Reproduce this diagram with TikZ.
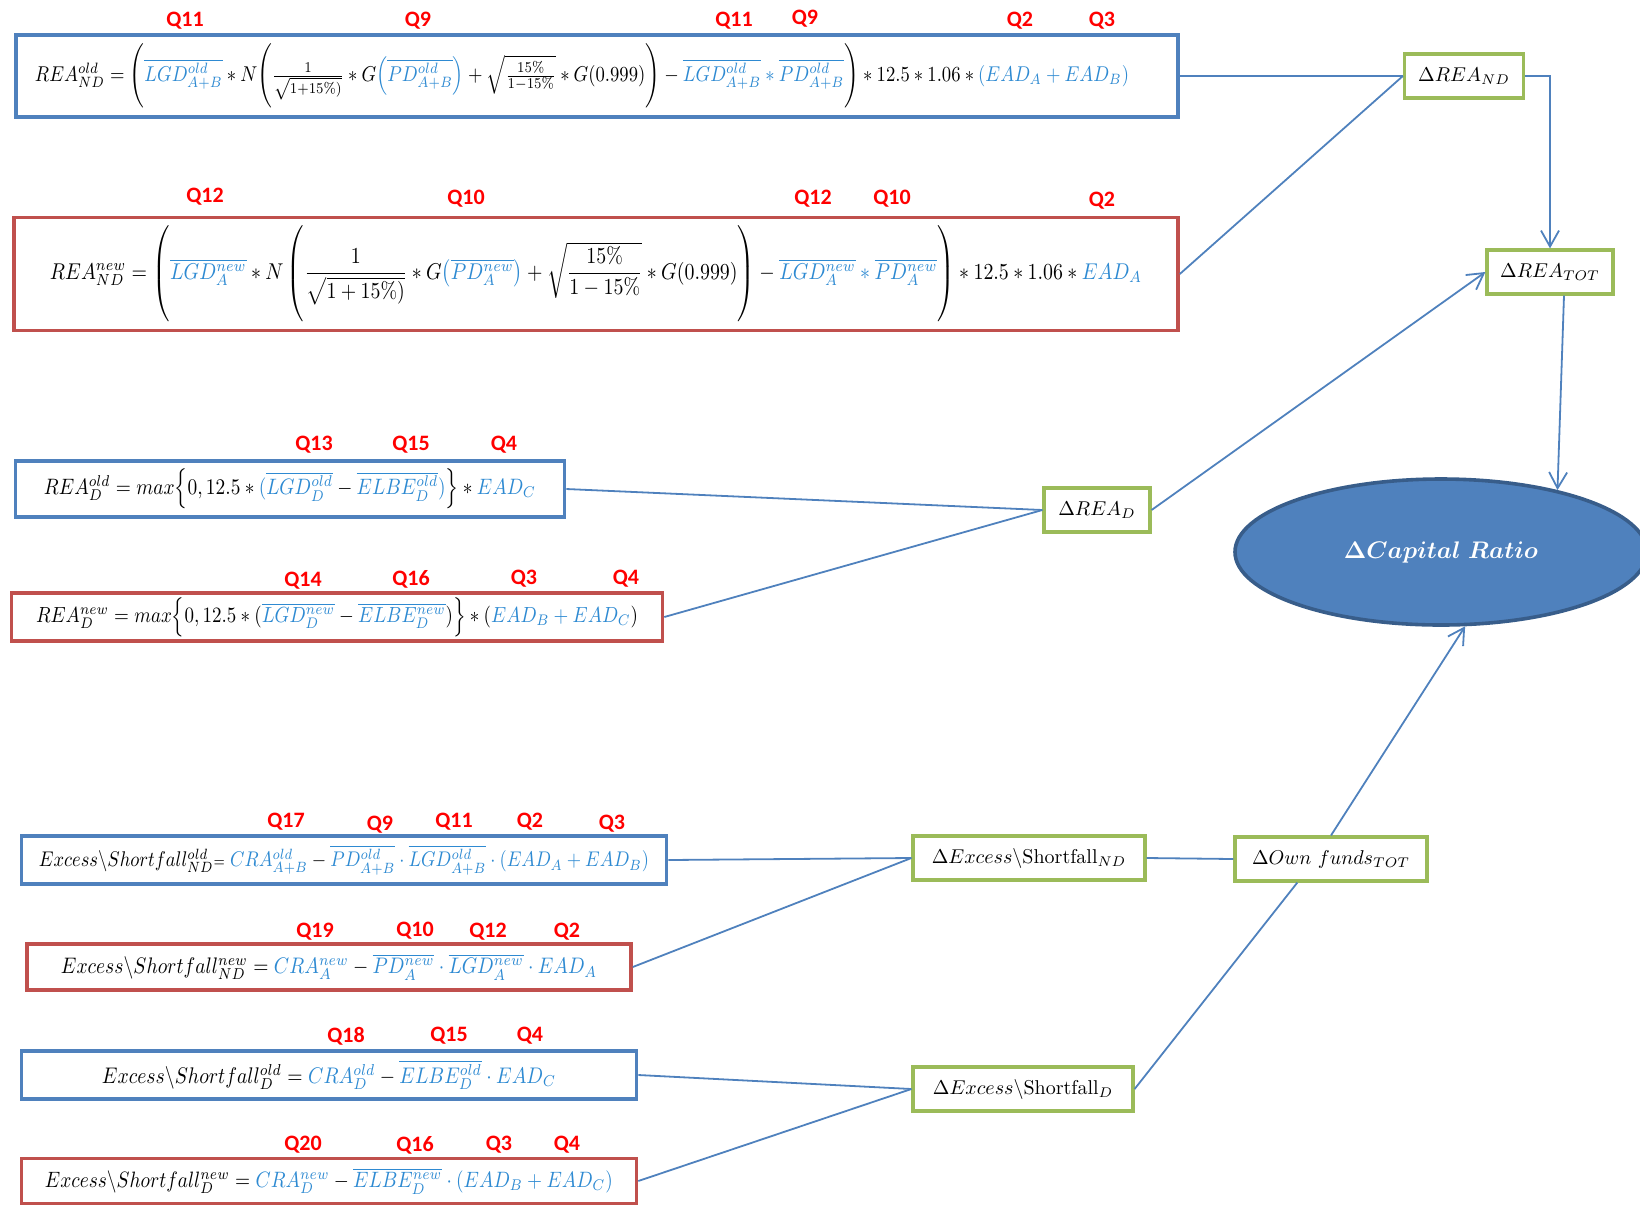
\documentclass[tikz,border=0pt]{standalone}
\usepackage{amsmath}
\usepackage{graphicx}
\usepackage{fontspec}
\newfontfamily\qfont{Carlito}
\usetikzlibrary{shapes.geometric,arrows.meta}
\definecolor{boxblue}{RGB}{79,129,189}
\definecolor{boxred}{RGB}{192,80,77}
\definecolor{boxgreen}{RGB}{155,187,89}
\definecolor{ratioedge}{RGB}{56,93,138}
\definecolor{fblue}{RGB}{46,138,210}
\definecolor{qred}{RGB}{255,0,0}
\newcommand{\blu}[1]{\textcolor{fblue}{#1}}
\newcommand{\fitw}[2]{\resizebox{#1}{!}{\scalebox{1}[1.15]{#2}}}
\tikzset{
  formula/.style={font=\fontsize{10}{12}\selectfont, inner sep=0pt, line width=1.8pt},
  oldbox/.style={formula, draw=boxblue},
  newbox/.style={formula, draw=boxred},
  deltabox/.style={formula, draw=boxgreen, line width=1.6pt},
  boxsize/.style 2 args={minimum width=#1*0.5pt, minimum height=#2*0.5pt},
  qlabel/.style={text=qred, font=\qfont\bfseries\fontsize{11}{13}\selectfont},
  ratiobox/.style={shape=ellipse, draw=ratioedge, fill=boxblue, line width=1.8pt, inner sep=0pt, text=white, font=\fontsize{11.5}{14}\selectfont},
  link/.style={draw=boxblue, line width=0.9pt},
  flow/.style={link, -{Straight Barb[length=8pt, width=9pt]}},
}
\begin{document}
\begin{tikzpicture}[x=0.5pt, y=-0.5pt]
  \useasboundingbox (0,0) rectangle (1640,1207);
  \clip (0,0) rectangle (1640,1207);
  % formula boxes
  \node[oldbox, boxsize={1162}{82}] (b1) at (597,76)
       {\fitw{547pt}{$REA^{old}_{ND} = \Bigg(\blu{\overline{LGD^{old}_{A+B}}} * N\Bigg(\frac{1}{\sqrt{1+15\%)}} * G\blu{\left(\overline{PD^{old}_{A+B}}\right)} + \sqrt{\frac{15\%}{1-15\%}} * G(0.999)\Bigg) - \blu{\overline{LGD^{old}_{A+B}} * \overline{PD^{old}_{A+B}}}\Bigg) * 12.5 * 1.06 * \blu{(EAD_A + EAD_B)}$}\hspace*{15pt}};
  \node[newbox, boxsize={1164}{113}] (b2) at (596,274)
       {\fitw{546pt}{$REA^{new}_{ND} = \left(\vrule height 19pt depth 19pt width 0pt\blu{\overline{LGD^{new}_{A}}} * N\left(\vrule height 19pt depth 19pt width 0pt\dfrac{1}{\sqrt{1+15\%)}} * G\blu{\left(\overline{PD^{new}_{A}}\right)} + \sqrt{\dfrac{15\%}{1-15\%}} * G(0.999)\right) - \blu{\overline{LGD^{new}_{A}} * \overline{PD^{new}_{A}}}\right) * 12.5 * 1.06 * \blu{EAD_A}$}};
  \node[oldbox, boxsize={549}{56}] (b3) at (290,489)
       {\fitw{246pt}{$REA^{old}_{D} = max\Big\{0, 12.5 * \blu{(\overline{LGD^{old}_{D}}} - \blu{\overline{ELBE^{old}_{D}})}\Big\} * \blu{EAD_C}$}};
  \node[newbox, boxsize={651}{48}] (b4) at (337,617)
       {\fitw{301pt}{$REA^{new}_{D} = max\Big\{0, 12.5 * (\blu{\overline{LGD^{new}_{D}}} - \blu{\overline{ELBE^{new}_{D}}})\Big\} * (\blu{EAD_B + EAD_C})$}};
  \node[oldbox, boxsize={645}{48}] (b5) at (344,860)
       {\fitw{305pt}{$Excess\backslash Shortfall^{old}_{ND}{\scriptstyle =}\; \blu{CRA^{old}_{A+B}} - \blu{\overline{PD^{old}_{A+B}} \cdot \overline{LGD^{old}_{A+B}} \cdot (EAD_A + EAD_B)}$}};
  \node[newbox, boxsize={604}{46}] (b6) at (329,967)
       {\fitw{268pt}{$Excess\backslash Shortfall^{new}_{ND} = \blu{CRA^{new}_A} - \blu{\overline{PD^{new}_A} \cdot \overline{LGD^{new}_A} \cdot EAD_A}$}};
  \node[oldbox, boxsize={615}{48}] (b7) at (329,1075)
       {\fitw{227pt}{$Excess\backslash Shortfall^{old}_{D} = \blu{CRA^{old}_D} - \blu{\overline{ELBE^{old}_D} \cdot EAD_C}$}};
  \node[newbox, boxsize={615}{45}] (b8) at (329,1181)
       {\fitw{284pt}{$Excess\backslash Shortfall^{new}_{D} = \blu{CRA^{new}_D} - \blu{\overline{ELBE^{new}_D} \cdot (EAD_B + EAD_C)}$}};
  % question labels
  \node[qlabel] (q1a) at (185,21) {Q11};
  \node[qlabel] (q1b) at (418,21) {Q9};
  \node[qlabel] (q1c) at (734,21) {Q11};
  \node[qlabel] (q1d) at (805,19) {Q9};
  \node[qlabel] (q1e) at (1020,21) {Q2};
  \node[qlabel] (q1f) at (1102,21) {Q3};
  \node[qlabel] (q2a) at (205,197) {Q12};
  \node[qlabel] (q2b) at (466,199) {Q10};
  \node[qlabel] (q2c) at (813,199) {Q12};
  \node[qlabel] (q2d) at (892,199) {Q10};
  \node[qlabel] (q2e) at (1102,201) {Q2};
  \node[qlabel] (q3a) at (314,445) {Q13};
  \node[qlabel] (q3b) at (411,445) {Q15};
  \node[qlabel] (q3c) at (504,445) {Q4};
  \node[qlabel] (q4a) at (303,581) {Q14};
  \node[qlabel] (q4b) at (411,579) {Q16};
  \node[qlabel] (q4c) at (524,579) {Q3};
  \node[qlabel] (q4d) at (626,579) {Q4};
  \node[qlabel] (q5a) at (286,822) {Q17};
  \node[qlabel] (q5b) at (380,825) {Q9};
  \node[qlabel] (q5c) at (454,822) {Q11};
  \node[qlabel] (q5d) at (530,822) {Q2};
  \node[qlabel] (q5e) at (612,824) {Q3};
  \node[qlabel] (q6a) at (315,932) {Q19};
  \node[qlabel] (q6b) at (415,931) {Q10};
  \node[qlabel] (q6c) at (488,932) {Q12};
  \node[qlabel] (q6d) at (567,932) {Q2};
  \node[qlabel] (q7a) at (346,1036) {Q18};
  \node[qlabel] (q7b) at (449,1036) {Q15};
  \node[qlabel] (q7c) at (530,1036) {Q4};
  \node[qlabel] (q8a) at (303,1145) {Q20};
  \node[qlabel] (q8b) at (415,1145) {Q16};
  \node[qlabel] (q8c) at (499,1145) {Q3};
  \node[qlabel] (q8d) at (567,1145) {Q4};
  % delta boxes and result
  \node[deltabox, boxsize={119}{44}] (dnd) at (1464,76) {$\Delta REA_{ND}$};
  \node[deltabox, boxsize={126}{44}] (dtot) at (1550,272) {$\Delta REA_{TOT}$};
  \node[deltabox, boxsize={106}{44}] (dd) at (1097,510) {$\Delta REA_{D}$};
  \node[deltabox, boxsize={232}{44}] (exnd) at (1029,858) {$\Delta Excess\backslash\mathrm{Shortfall}_{ND}$};
  \node[deltabox, boxsize={192}{44}] (own) at (1331,859) {$\Delta Own\ funds_{TOT}$};
  \node[deltabox, boxsize={220}{44}] (exd) at (1023,1089) {$\Delta Excess\backslash\mathrm{Shortfall}_{D}$};
  \node[ratiobox, boxsize={412}{146}] (ratio) at (1441,552) {$\boldsymbol{\Delta Capital\ Ratio}$};
  % connectors
  \draw[link] (b1.east) -- (dnd.west);
  \draw[link] (b2.east) -- (dnd.west);
  \draw[flow] (dnd.east) -| (dtot.north);
  \draw[flow] (dd.east) -- (dtot.west);
  \draw[flow] ([xshift=7pt]dtot.south) -- (ratio.28);
  \draw[link] (b3.east) -- (dd.west);
  \draw[link] (b4.east) -- (dd.west);
  \draw[link] (b5.east) -- (exnd.west);
  \draw[link] (b6.east) -- (exnd.west);
  \draw[link] (b7.east) -- (exd.west);
  \draw[link] (b8.east) -- (exd.west);
  \draw[link] (exnd.east) -- (own.west);
  \draw[link] (exd.east) -- (own.215);
  \draw[flow] (own.north) -- (ratio.-72);
\end{tikzpicture}
\end{document}
